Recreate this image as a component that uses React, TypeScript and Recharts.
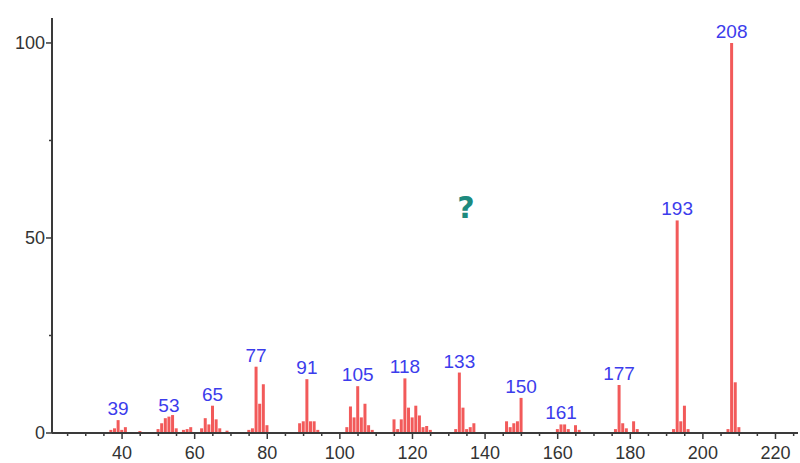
import { Bar, BarChart, LabelList, ReferenceDot, XAxis, YAxis } from "recharts";

// m/z values and relative intensities
const mzValues = [
  37, 38, 39, 40, 41, 45, 50, 51, 52, 53, 54, 55, 57, 58, 59, 62, 63, 64, 65, 66, 67, 69,
  75, 76, 77, 78, 79, 80, 89, 90, 91, 92, 93, 94, 102, 103, 104, 105, 106, 107, 108, 109,
  115, 116, 117, 118, 119, 120, 121, 122, 123, 124, 125, 132, 133, 134, 135, 136, 137,
  146, 147, 148, 149, 150, 160, 161, 162, 163, 165, 166, 176, 177, 178, 179, 181, 182,
  192, 193, 194, 195, 196, 207, 208, 209, 210,
];
const intensities = [
  0.8, 1.2, 3.3, 0.8, 1.5, 0.5, 1.0, 2.5, 3.8, 4.2, 4.6, 1.2, 0.8, 1.0, 1.5, 1.2, 3.8, 2.2, 7.0, 3.5, 1.2, 0.6,
  0.8, 1.2, 17.0, 7.5, 12.5, 2.0, 2.5, 3.0, 13.8, 3.0, 3.0, 0.8, 1.5, 6.8, 4.0, 12.0, 4.0, 7.5, 2.0, 0.8,
  3.5, 1.0, 3.5, 14.0, 6.5, 4.0, 7.0, 4.5, 1.5, 1.8, 0.8, 1.0, 15.5, 6.5, 1.0, 1.5, 2.5,
  3.0, 1.5, 2.5, 3.0, 9.0, 1.0, 2.2, 2.2, 1.0, 2.0, 0.8, 1.0, 12.3, 2.5, 1.2, 3.0, 1.0,
  1.0, 54.5, 3.0, 7.0, 1.0, 1.0, 100, 13.0, 1.5,
];
const labeledPeaks = [39, 53, 65, 77, 91, 105, 118, 133, 150, 161, 177, 193, 208];
const xTicks = [25, 30, 35, 40, 45, 50, 55, 60, 65, 70, 75, 80, 85, 90, 95, 100, 105, 110, 115, 120, 125, 130, 135, 140, 145, 150, 155, 160, 165, 170, 175, 180, 185, 190, 195, 200, 205, 210, 215, 220, 225];
const xLabels = [40, 60, 80, 100, 120, 140, 160, 180, 200, 220];
const yTicks = [0, 25, 50, 75, 100];
const yLabels = [0, 50, 100];

const data = mzValues.map((mz, i) => ({ mz, intensity: intensities[i] }));

const axisColor = "#3a3a3a";
const font = "'Liberation Sans', Arial, sans-serif";

function XTick({ x, y, payload }: any) {
  const major = xLabels.includes(payload.value);
  return (
    <g>
      <line x1={x} x2={x} y1={y - 8} y2={y - 8 + (major ? 6 : 3)} stroke={axisColor} strokeWidth={1.5} />
      {major && (
        <text x={x} y={y + 18} textAnchor="middle" fontSize={18} fill="#333" fontFamily={font}>
          {payload.value}
        </text>
      )}
    </g>
  );
}

function YTick({ x, y, payload }: any) {
  const major = yLabels.includes(payload.value);
  return (
    <g>
      <line x1={x + 8} x2={x + 8 - (major ? 6 : 3)} y1={y} y2={y} stroke={axisColor} strokeWidth={1.5} />
      {major && (
        <text x={x + 1} y={y + 6} textAnchor="end" fontSize={18} fill="#333" fontFamily={font}>
          {payload.value}
        </text>
      )}
    </g>
  );
}

function PeakLabel({ x, y, width, index }: any) {
  const mz = mzValues[index];
  if (!labeledPeaks.includes(mz)) return null;
  return (
    <text x={x + width / 2} y={y - 5} textAnchor="middle" fontSize={19} fill="#3c3cec" fontFamily={font}>
      {mz}
    </text>
  );
}

export default function App() {
  return (
    <div style={{ position: "absolute", left: 0, top: 0, background: "#fff" }}>
      <BarChart width={800} height={463} data={data} margin={{ top: 18, right: 2, bottom: 0, left: 0 }}>
        <XAxis
          dataKey="mz"
          type="number"
          domain={[20.7, 226.2]}
          ticks={xTicks}
          interval={0}
          allowDataOverflow
          height={30}
          tickLine={false}
          tick={<XTick />}
          stroke={axisColor}
          strokeWidth={2}
        />
        <YAxis
          type="number"
          domain={[0, 106.4]}
          ticks={yTicks}
          interval={0}
          width={52}
          tickLine={false}
          tick={<YTick />}
          stroke={axisColor}
          strokeWidth={2}
        />
        <Bar dataKey="intensity" fill="#f25a5a" barSize={3} isAnimationActive={false}>
          <LabelList dataKey="intensity" content={<PeakLabel />} />
        </Bar>
        <ReferenceDot
          x={134.7}
          y={58}
          r={0}
          isFront
          shape={(p: any) => (
            <text x={p.cx} y={p.cy + 11} textAnchor="middle" fontSize={30} fontWeight="bold" fill="#1d8a7e" fontFamily="'DejaVu Sans', sans-serif">
              ?
            </text>
          )}
        />
      </BarChart>
    </div>
  );
}
